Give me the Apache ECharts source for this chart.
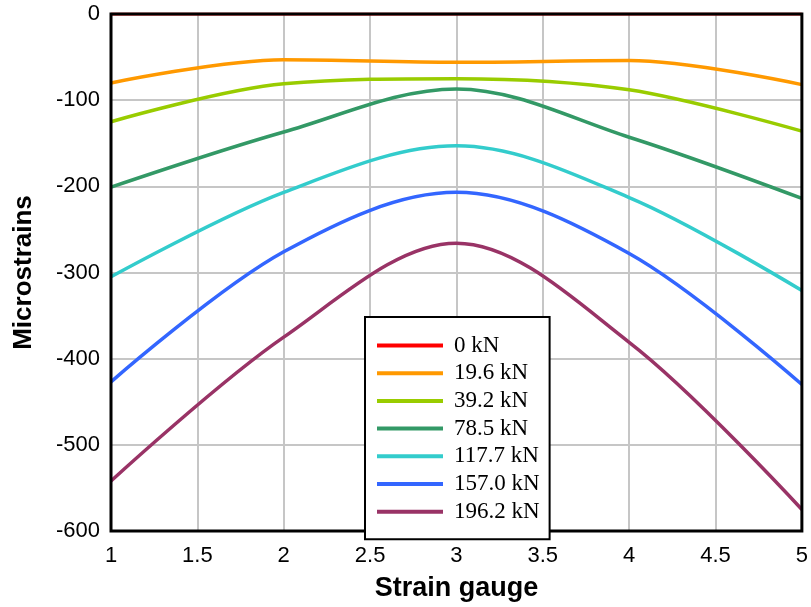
<!DOCTYPE html>
<html>
<head>
<meta charset="utf-8">
<script src="https://cdn.jsdelivr.net/npm/echarts@6/dist/echarts.min.js"></script>
<style>
html,body{margin:0;padding:0;background:#fff;}
#main{width:811px;height:607px;}
</style>
</head>
<body>
<div id="main"></div>
<script>
const gauges = [1, 2, 3, 4, 5];
const seriesNames = ['0 kN', '19.6 kN', '39.2 kN', '78.5 kN', '117.7 kN', '157.0 kN', '196.2 kN'];
const load0 = [0, 0, 0, 0, 0];
const load19_6 = [-80, -53, -56, -54, -82];
const load39_2 = [-125, -81, -75, -88, -136];
const load78_5 = [-201, -137, -87, -143, -214];
const load117_7 = [-305, -207, -153, -213, -321];
const load157_0 = [-427, -276, -207, -278, -430];
const load196_2 = [-542, -375, -266, -381, -575];
const colors = ['#ff0000', '#ff9900', '#99cc00', '#339966', '#33cccc', '#3366ff', '#993366'];
const allData = [load0, load19_6, load39_2, load78_5, load117_7, load157_0, load196_2];

const chart = echarts.init(document.getElementById('main'), null, {renderer: 'canvas'});
const sansFont = "'Liberation Sans', Arial, sans-serif";
const option = {
  animation: false,
  backgroundColor: '#fff',
  grid: {
    left: 111, right: 8, top: 14, bottom: 76,
    show: true, borderColor: '#000', borderWidth: 3, z: 10,
    backgroundColor: 'transparent'
  },
  legend: {
    orient: 'vertical',
    left: 365, top: 317,
    padding: [17, 10, 16, 12],
    backgroundColor: '#fff',
    borderColor: '#000',
    borderWidth: 2,
    borderRadius: 0,
    itemWidth: 66,
    itemHeight: 4,
    itemGap: 4.7,
    icon: 'rect',
    textStyle: {
      fontFamily: "'Liberation Serif', 'Times New Roman', serif",
      fontSize: 23, lineHeight: 22, color: '#000',
      padding: [0, 0, 0, 6]
    },
    data: seriesNames,
    z: 20
  },
  xAxis: {
    type: 'value', min: 1, max: 5, interval: 0.5,
    name: 'Strain gauge', nameLocation: 'middle', nameGap: 44,
    nameTextStyle: {fontFamily: sansFont, fontWeight: 'bold', fontSize: 27, color: '#000'},
    axisLine: {show: false},
    axisTick: {show: false},
    axisLabel: {fontFamily: sansFont, fontSize: 22, color: '#000', margin: 14},
    splitLine: {show: true, lineStyle: {color: '#c6c6c6', width: 2}}
  },
  yAxis: {
    type: 'value', min: -600, max: 0, interval: 100,
    name: 'Microstrains', nameLocation: 'middle', nameGap: 74, nameRotate: 90,
    nameTextStyle: {fontFamily: sansFont, fontWeight: 'bold', fontSize: 26, color: '#000'},
    axisLine: {show: false},
    axisTick: {show: false},
    axisLabel: {fontFamily: sansFont, fontSize: 22, color: '#000', margin: 11},
    splitLine: {show: true, lineStyle: {color: '#c6c6c6', width: 2}}
  },
  series: seriesNames.map((name, i) => ({
    name: name,
    type: 'line',
    smooth: 0.34,
    smoothMonotone: null,
    showSymbol: false,
    symbol: 'none',
    z: i === 0 ? 1 : 2,
    color: colors[i],
    lineStyle: {color: colors[i], width: i === 0 ? 3 : 3.5},
    data: gauges.map((g, k) => [g, allData[i][k]])
  }))
};
chart.setOption(option);
</script>
</body>
</html>
